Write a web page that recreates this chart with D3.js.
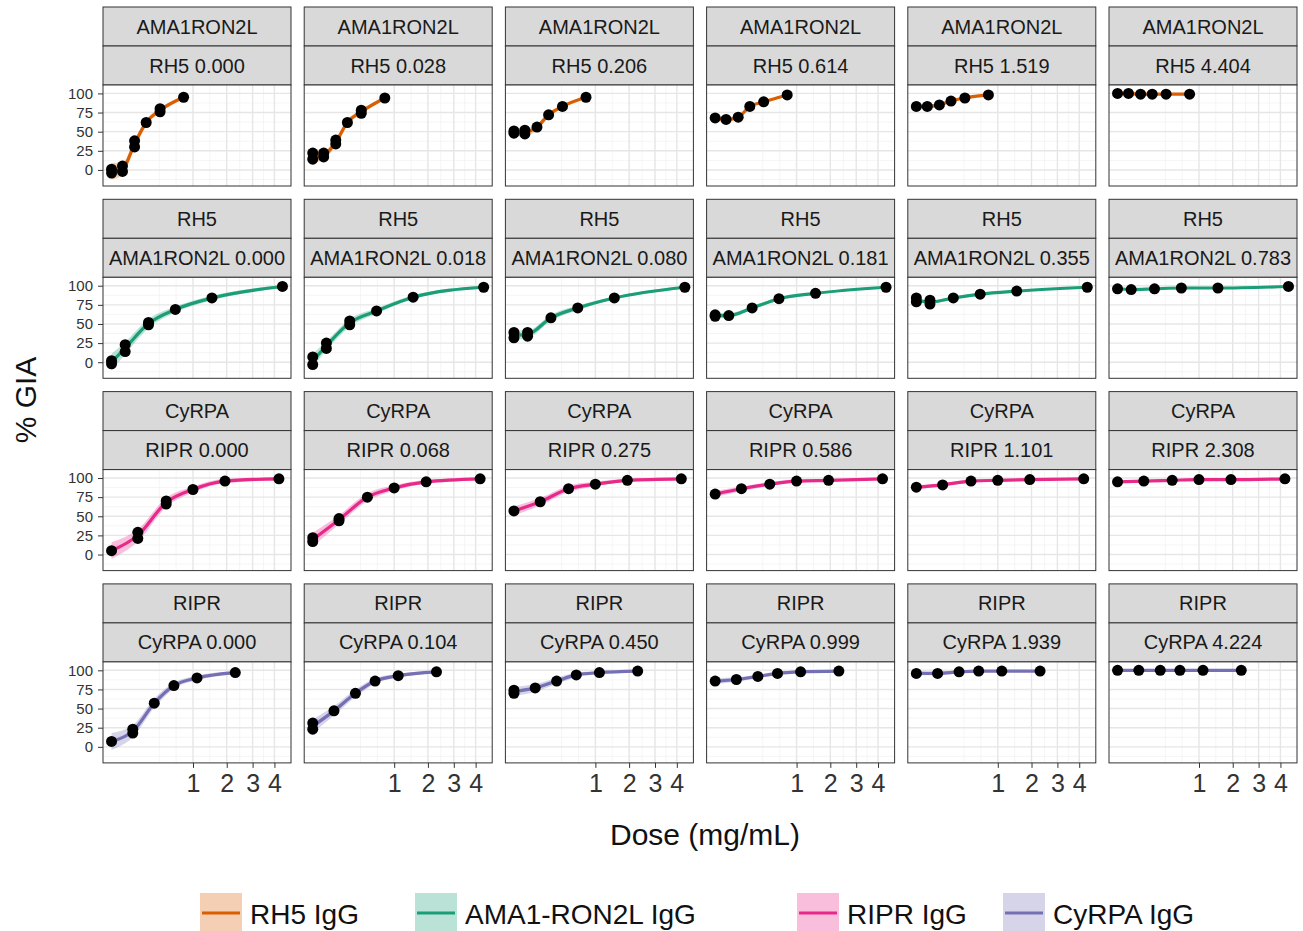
<!DOCTYPE html>
<html>
<head>
<meta charset="utf-8">
<script src="https://cdn.jsdelivr.net/npm/d3@7/dist/d3.min.js"></script>
<style>
body { margin: 0; background: #fff; }
svg { font-family: "Liberation Sans", Arial, Helvetica, sans-serif; }
</style>
</head>
<body>
<svg></svg>
<script>
// dose levels (mg/mL) of each antibody
const dosesAMA1RON2L = [0, 0.018, 0.080, 0.181, 0.355, 0.783];
const dosesRH5 = [0, 0.028, 0.206, 0.614, 1.519, 4.404];
const dosesRIPR = [0, 0.068, 0.275, 0.586, 1.101, 2.308];
const dosesCyRPA = [0, 0.104, 0.450, 0.999, 1.939, 4.224];

// facet rows: antibody titrated on x, antibody held fixed per column
const rowTitrated = ['AMA1RON2L', 'RH5', 'CyRPA', 'RIPR'];
const rowFixed = ['RH5', 'AMA1RON2L', 'RIPR', 'CyRPA'];
const seriesNames = ['RH5 IgG', 'AMA1-RON2L IgG', 'RIPR IgG', 'CyRPA IgG'];
const seriesColors = ['#d95f02', '#1b9e77', '#e7298a', '#7570b3'];

// % GIA, replicates per dose, one list per panel (columns left to right)
const giaRow1 = [
    [[1, -4], [5, -2], [38, 30], [62], [80, 76], [95]],
    [[22, 14], [22, 17], [39, 34], [62], [78, 74], [94]],
    [[51, 48], [52, 47], [56], [72], [83], [95]],
    [[68], [66], [69], [83], [89], [98]],
    [[83], [83], [85], [90], [94], [98]],
    [[100], [100], [99], [99], [99], [99]]
];
const giaRow2 = [
    [[2, -2], [23, 14], [52, 49], [69], [84], [99]],
    [[7, -3], [25, 18], [54, 49], [67], [85], [98]],
    [[39, 32], [39, 34], [58], [71], [84], [98]],
    [[62, 60], [61], [71], [83], [90], [98]],
    [[84, 79], [81, 76], [84], [89], [93], [98]],
    [[96], [95], [96], [97], [97], [99]]
];
const giaRow3 = [
    [[5], [29, 21], [70, 66], [85], [96], [99]],
    [[22, 17], [47, 44], [75], [87], [95], [99]],
    [[57], [69], [86], [92], [97], [99]],
    [[79], [86], [92], [96], [97], [99]],
    [[88], [91], [96], [97], [98], [99]],
    [[95], [96], [97], [98], [98], [99]]
];
const giaRow4 = [
    [[7], [23, 18], [57], [80], [90], [97]],
    [[31, 23], [47], [70], [86], [93], [98]],
    [[70, 74], [77], [86], [94], [97], [99]],
    [[86], [88], [92], [96], [98], [99]],
    [[96], [96], [98], [99], [99], [99]],
    [[100], [100], [100], [100], [100], [100]]
];

// half width of the fit's confidence band, per column and dose
const bandHalfWidth = [
    [11, 8, 6, 4, 3, 2],
    [9, 6, 5, 3.5, 2.5, 1.5],
    [6, 5, 4, 3, 2, 1.5],
    [4, 3, 2.5, 2, 1.5, 1],
    [2.5, 2, 2, 1.5, 1, 1],
    [1.5, 1.5, 1, 1, 1, 1]
];

const yTicks = [0, 25, 50, 75, 100];
const yMinor = [-12.5, 12.5, 37.5, 62.5, 87.5];
const xTicks = [1, 2, 3, 4];

const dosesByName = {
    AMA1RON2L: dosesAMA1RON2L, RH5: dosesRH5, RIPR: dosesRIPR, CyRPA: dosesCyRPA
};
const giaRows = [giaRow1, giaRow2, giaRow3, giaRow4];

let width = 1303;
let height = 931;
let panelLeft = 103;
let colStep = 201.2;
let panelW = 188;
let stripTop = 7;
let rowStep = 192.3;
let stripH = 39;
let panelH = 101;

let svg = d3.select('svg')
    .attr('width', width)
    .attr('height', height);

// sqrt x scale, expanded 5% like ggplot
let maxDose = d3.max(Object.values(dosesByName).flat());
let sMax = Math.sqrt(maxDose);
let pad = sMax * 0.05;
let xScale = d3.scaleSqrt()
    .domain([-(pad * pad), (sMax + pad) * (sMax + pad)])
    .range([0, panelW]);
// minor breaks halfway between majors in sqrt space
let xMinor = [0.586, 0.793, 1.207, 1.573, 1.866].map(s => s * s);

let yScale = d3.scaleLinear()
    .domain([-21, 111])
    .range([panelH, 0]);

svg.append('defs').append('clipPath')
    .attr('id', 'panel-clip')
    .append('rect')
    .attr('width', panelW)
    .attr('height', panelH);

let drawPanel = (r, c) => {
    let x0 = panelLeft + c * colStep;
    let y0 = stripTop + r * rowStep;
    let color = seriesColors[r];
    let xs = dosesByName[rowTitrated[r]];
    let fixedLevel = dosesByName[rowFixed[r]][c];
    let reps = giaRows[r][c];

    // strips
    let strips = [rowTitrated[r], rowFixed[r] + ' ' + fixedLevel.toFixed(3)];
    strips.forEach((label, i) => {
        let g = svg.append('g')
            .attr('transform', 'translate(' + x0 + ',' + (y0 + i * stripH) + ')');
        g.append('rect')
            .attr('width', panelW)
            .attr('height', stripH)
            .attr('fill', '#d9d9d9')
            .attr('stroke', '#333')
            .attr('stroke-width', 1);
        g.append('text')
            .attr('x', panelW / 2)
            .attr('y', stripH / 2 + 7)
            .attr('text-anchor', 'middle')
            .attr('font-size', 20)
            .attr('fill', '#1a1a1a')
            .text(label);
    });

    let panel = svg.append('g')
        .attr('transform', 'translate(' + x0 + ',' + (y0 + 2 * stripH) + ')');

    panel.append('rect')
        .attr('width', panelW)
        .attr('height', panelH)
        .attr('fill', '#fff');

    // grid
    panel.selectAll('.hminor').data(yMinor).enter().append('line')
        .attr('x1', 0).attr('x2', panelW)
        .attr('y1', d => yScale(d)).attr('y2', d => yScale(d))
        .attr('stroke', '#f2f2f2').attr('stroke-width', 0.8);
    panel.selectAll('.vminor').data(xMinor).enter().append('line')
        .attr('y1', 0).attr('y2', panelH)
        .attr('x1', d => xScale(d)).attr('x2', d => xScale(d))
        .attr('stroke', '#f2f2f2').attr('stroke-width', 0.8);
    panel.selectAll('.hmajor').data(yTicks).enter().append('line')
        .attr('x1', 0).attr('x2', panelW)
        .attr('y1', d => yScale(d)).attr('y2', d => yScale(d))
        .attr('stroke', '#e6e6e6').attr('stroke-width', 1.4);
    panel.selectAll('.vmajor').data(xTicks).enter().append('line')
        .attr('y1', 0).attr('y2', panelH)
        .attr('x1', d => xScale(d)).attr('x2', d => xScale(d))
        .attr('stroke', '#e6e6e6').attr('stroke-width', 1.4);

    let fit = xs.map((d, i) => ({
        dose: d,
        mean: d3.mean(reps[i]),
        half: bandHalfWidth[c][i]
    }));

    let body = panel.append('g').attr('clip-path', 'url(#panel-clip)');

    body.append('path')
        .datum(fit)
        .attr('fill', color)
        .attr('fill-opacity', 0.3)
        .attr('d', d3.area()
            .curve(d3.curveMonotoneX)
            .x(d => xScale(d.dose))
            .y0(d => yScale(d.mean - d.half))
            .y1(d => yScale(d.mean + d.half)));

    body.append('path')
        .datum(fit)
        .attr('fill', 'none')
        .attr('stroke', color)
        .attr('stroke-width', 3.2)
        .attr('d', d3.line()
            .curve(d3.curveMonotoneX)
            .x(d => xScale(d.dose))
            .y(d => yScale(d.mean)));

    let points = [];
    xs.forEach((d, i) => reps[i].forEach(v => points.push([d, v])));
    body.selectAll('circle').data(points).enter().append('circle')
        .attr('cx', d => xScale(d[0]))
        .attr('cy', d => yScale(d[1]))
        .attr('r', 5.5)
        .attr('fill', '#000');

    panel.append('rect')
        .attr('width', panelW)
        .attr('height', panelH)
        .attr('fill', 'none')
        .attr('stroke', '#333')
        .attr('stroke-width', 1);

    if (c === 0) {
        let yAxis = d3.axisLeft(yScale)
            .tickValues(yTicks)
            .tickSize(5)
            .tickPadding(5);
        panel.append('g')
            .call(yAxis)
            .call(g => g.select('.domain').remove())
            .call(g => g.selectAll('line').attr('stroke', '#333'))
            .call(g => g.selectAll('text')
                .attr('font-size', 15)
                .attr('fill', '#333')
                .style('font-family', '"Liberation Sans", Arial, sans-serif'));
    }
    if (r === 3) {
        let xAxis = d3.axisBottom(xScale)
            .tickValues(xTicks)
            .tickFormat(d3.format('d'))
            .tickSize(5)
            .tickPadding(6);
        panel.append('g')
            .attr('transform', 'translate(0,' + panelH + ')')
            .call(xAxis)
            .call(g => g.select('.domain').remove())
            .call(g => g.selectAll('line').attr('stroke', '#333'))
            .call(g => g.selectAll('text')
                .attr('font-size', 25)
                .attr('fill', '#333')
                .style('font-family', '"Liberation Sans", Arial, sans-serif'));
    }
};

for (let r = 0; r < 4; r++) {
    for (let c = 0; c < 6; c++) {
        drawPanel(r, c);
    }
}

// axis titles
svg.append('text')
    .attr('transform', 'translate(36,400) rotate(-90)')
    .attr('text-anchor', 'middle')
    .attr('font-size', 30)
    .attr('fill', '#111')
    .text('% GIA');

svg.append('text')
    .attr('x', 705)
    .attr('y', 845)
    .attr('text-anchor', 'middle')
    .attr('font-size', 30)
    .attr('fill', '#111')
    .text('Dose (mg/mL)');

// legend
let legendX = [200, 415, 797, 1003];
seriesNames.forEach((name, i) => {
    let g = svg.append('g')
        .attr('transform', 'translate(' + legendX[i] + ',893)');
    g.append('rect')
        .attr('width', 42)
        .attr('height', 42)
        .attr('fill', seriesColors[i])
        .attr('fill-opacity', 0.3);
    g.append('line')
        .attr('x1', 2).attr('x2', 40)
        .attr('y1', 20).attr('y2', 20)
        .attr('stroke', seriesColors[i])
        .attr('stroke-width', 3);
    g.append('text')
        .attr('x', 50)
        .attr('y', 31)
        .attr('font-size', 28)
        .attr('fill', '#111')
        .text(name);
});
</script>
</body>
</html>
